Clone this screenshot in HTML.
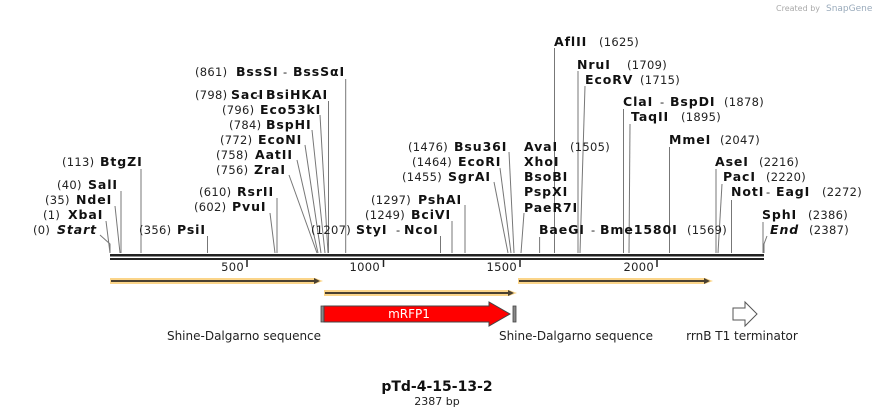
<!DOCTYPE html>
<html><head><meta charset="utf-8"><style>
html,body{margin:0;padding:0;background:#fff;}
svg{display:block;font-family:"DejaVu Sans","Liberation Sans",sans-serif;}
.n{font-size:11.5px;fill:#222;letter-spacing:0.3px;}
.b{font-size:12.5px;font-weight:bold;fill:#111;letter-spacing:0.9px;}
.l{stroke:#777;stroke-width:1;fill:none;}
</style></head><body>
<svg width="874" height="417" viewBox="0 0 874 417">
<text x="776" y="11" font-size="8" fill="#aaa">Created by</text><text x="826" y="11" font-size="9" fill="#9ab">SnapGene</text>
<g class="l">
<polyline points="100,235 110,244 110,253"/>
<line x1="106" y1="221" x2="110" y2="253"/>
<line x1="115" y1="206" x2="120" y2="253"/>
<line x1="121" y1="191" x2="121" y2="253"/>
<line x1="141" y1="169" x2="141" y2="253"/>
<line x1="207.5" y1="236" x2="207.5" y2="253"/>
<line x1="270" y1="213" x2="275" y2="253"/>
<line x1="277" y1="198" x2="277" y2="253"/>
<line x1="289" y1="175" x2="317" y2="253"/>
<line x1="297" y1="160" x2="318" y2="253"/>
<line x1="305" y1="145" x2="321" y2="253"/>
<line x1="312" y1="130" x2="325" y2="253"/>
<line x1="320" y1="115" x2="328" y2="253"/>
<line x1="328.5" y1="101" x2="328.5" y2="253"/>
<line x1="345.7" y1="79" x2="345.7" y2="253"/>
<line x1="440.5" y1="236" x2="440.5" y2="253"/>
<line x1="452" y1="221" x2="452" y2="253"/>
<line x1="465" y1="205" x2="465" y2="253"/>
<line x1="494" y1="182" x2="508" y2="253"/>
<line x1="500" y1="168" x2="511" y2="253"/>
<line x1="509" y1="152" x2="514" y2="253"/>
<line x1="524" y1="213" x2="521" y2="253"/>
<line x1="539.6" y1="237" x2="539.6" y2="253"/>
<line x1="554.5" y1="48" x2="554.5" y2="253"/>
<line x1="578" y1="71" x2="578" y2="253"/>
<line x1="585" y1="86" x2="580" y2="253"/>
<line x1="623.5" y1="109" x2="623.5" y2="253"/>
<line x1="630" y1="124" x2="629" y2="253"/>
<line x1="669.5" y1="147" x2="669.5" y2="253"/>
<line x1="716" y1="169" x2="716" y2="253"/>
<line x1="722" y1="184" x2="718" y2="253"/>
<line x1="731.5" y1="200" x2="731.5" y2="253"/>
<line x1="763" y1="222" x2="763" y2="253"/>
<polyline points="767,236 764,244 764,253"/>
</g>
<rect x="110" y="254" width="654" height="2.5" fill="#222"/>
<rect x="110" y="258" width="654" height="2" fill="#222"/>
<g stroke="#222" stroke-width="1.5">
<line x1="247" y1="260" x2="247" y2="267"/><line x1="383.5" y1="260" x2="383.5" y2="267"/><line x1="520" y1="260" x2="520" y2="267"/><line x1="657" y1="260" x2="657" y2="267"/>
</g>
<g class="n" text-anchor="end"><text x="244" y="271">500</text><text x="380" y="271">1000</text><text x="517" y="271">1500</text><text x="654" y="271">2000</text></g>
<g class="n">
<text x="33" y="234">(0)</text><text x="43" y="219">(1)</text><text x="45" y="204">(35)</text><text x="57" y="189">(40)</text><text x="62" y="166">(113)</text>
<text x="139" y="234">(356)</text><text x="194" y="211">(602)</text><text x="199" y="196">(610)</text>
<text x="216" y="174">(756)</text><text x="216" y="159">(758)</text><text x="220" y="144">(772)</text><text x="229" y="129">(784)</text><text x="222" y="114">(796)</text><text x="195" y="99">(798)</text><text x="195" y="76">(861)</text>
<text x="311" y="234">(1207)</text><text x="365" y="219">(1249)</text><text x="371" y="204">(1297)</text><text x="402" y="181">(1455)</text><text x="412" y="166">(1464)</text><text x="408" y="151">(1476)</text>
<text x="570" y="151">(1505)</text><text x="687" y="234">(1569)</text><text x="599" y="46">(1625)</text><text x="627" y="69">(1709)</text><text x="640" y="84">(1715)</text><text x="724" y="106">(1878)</text><text x="681" y="121">(1895)</text><text x="720" y="144">(2047)</text><text x="759" y="166">(2216)</text><text x="766" y="181">(2220)</text><text x="822" y="196">(2272)</text><text x="808" y="219">(2386)</text><text x="809" y="234">(2387)</text>
<text x="256" y="99">-</text><text x="283" y="76">-</text><text x="396" y="234">-</text><text x="591" y="234">-</text><text x="660" y="106">-</text><text x="766" y="196">-</text>
</g>
<g class="b">
<text x="57" y="234" font-style="italic">Start</text><text x="68" y="219">XbaI</text><text x="76" y="204">NdeI</text><text x="88" y="189">SalI</text><text x="100" y="166">BtgZI</text>
<text x="177" y="234">PsiI</text><text x="232" y="211">PvuI</text><text x="237" y="196">RsrII</text>
<text x="254" y="174">ZraI</text><text x="255" y="159">AatII</text><text x="258" y="144">EcoNI</text><text x="266" y="129">BspHI</text><text x="260" y="114">Eco53kI</text><text x="231" y="99">SacI</text><text x="266" y="99">BsiHKAI</text><text x="236" y="76">BssSI</text><text x="293" y="76">BssSαI</text>
<text x="356" y="234">StyI</text><text x="404" y="234">NcoI</text><text x="411" y="219">BciVI</text><text x="418" y="204">PshAI</text><text x="448" y="181">SgrAI</text><text x="458" y="166">EcoRI</text><text x="454" y="151">Bsu36I</text>
<text x="524" y="151">AvaI</text><text x="524" y="166">XhoI</text><text x="524" y="181">BsoBI</text><text x="524" y="196">PspXI</text><text x="524" y="212">PaeR7I</text>
<text x="539" y="234">BaeGI</text><text x="600" y="234">Bme1580I</text>
<text x="554" y="46">AflII</text><text x="577" y="69">NruI</text><text x="585" y="84">EcoRV</text><text x="623" y="106">ClaI</text><text x="670" y="106">BspDI</text><text x="631" y="121">TaqII</text><text x="669" y="144">MmeI</text>
<text x="715" y="166">AseI</text><text x="723" y="181">PacI</text><text x="731" y="196">NotI</text><text x="776" y="196">EagI</text><text x="762" y="219">SphI</text><text x="770" y="234" font-style="italic">End</text>
</g>
<g>
<polygon points="110,278 315,278 323,281 315,284 110,284" fill="#fbd58a"/>
<line x1="111" y1="281" x2="318" y2="281" stroke="#4a4030" stroke-width="2"/><polygon points="314,278 320,281 314,284" fill="#4a4030"/>
<polygon points="324,290 509,290 517,293 509,296 324,296" fill="#fbd58a"/>
<line x1="325" y1="293" x2="512" y2="293" stroke="#4a4030" stroke-width="2"/><polygon points="508,290 514,293 508,296" fill="#4a4030"/>
<polygon points="518,278 705,278 713,281 705,284 518,284" fill="#fbd58a"/>
<line x1="519" y1="281" x2="708" y2="281" stroke="#4a4030" stroke-width="2"/><polygon points="704,278 710,281 704,284" fill="#4a4030"/>
</g>
<rect x="321" y="306" width="3" height="16" fill="#888" stroke="#444" stroke-width="0.8"/>
<polygon points="324,306 489,306 489,302 510,314 489,326 489,322 324,322" fill="#f00" stroke="#444" stroke-width="1"/>
<text x="409" y="318" font-size="12" fill="#fff" text-anchor="middle">mRFP1</text>
<rect x="513" y="306" width="3" height="16" fill="#888" stroke="#444" stroke-width="0.8"/>
<polygon points="733,308 745,308 745,302 757,314 745,326 745,320 733,320" fill="#fff" stroke="#555" stroke-width="1"/>
<g font-size="12" fill="#222" text-anchor="middle">
<text x="244" y="340">Shine-Dalgarno sequence</text><text x="576" y="340">Shine-Dalgarno sequence</text><text x="742" y="340">rrnB T1 terminator</text>
<text x="437" y="391" font-size="14" font-weight="bold" fill="#111">pTd-4-15-13-2</text>
<text x="437" y="405" font-size="11">2387 bp</text>
</g>
</svg>
</body></html>
